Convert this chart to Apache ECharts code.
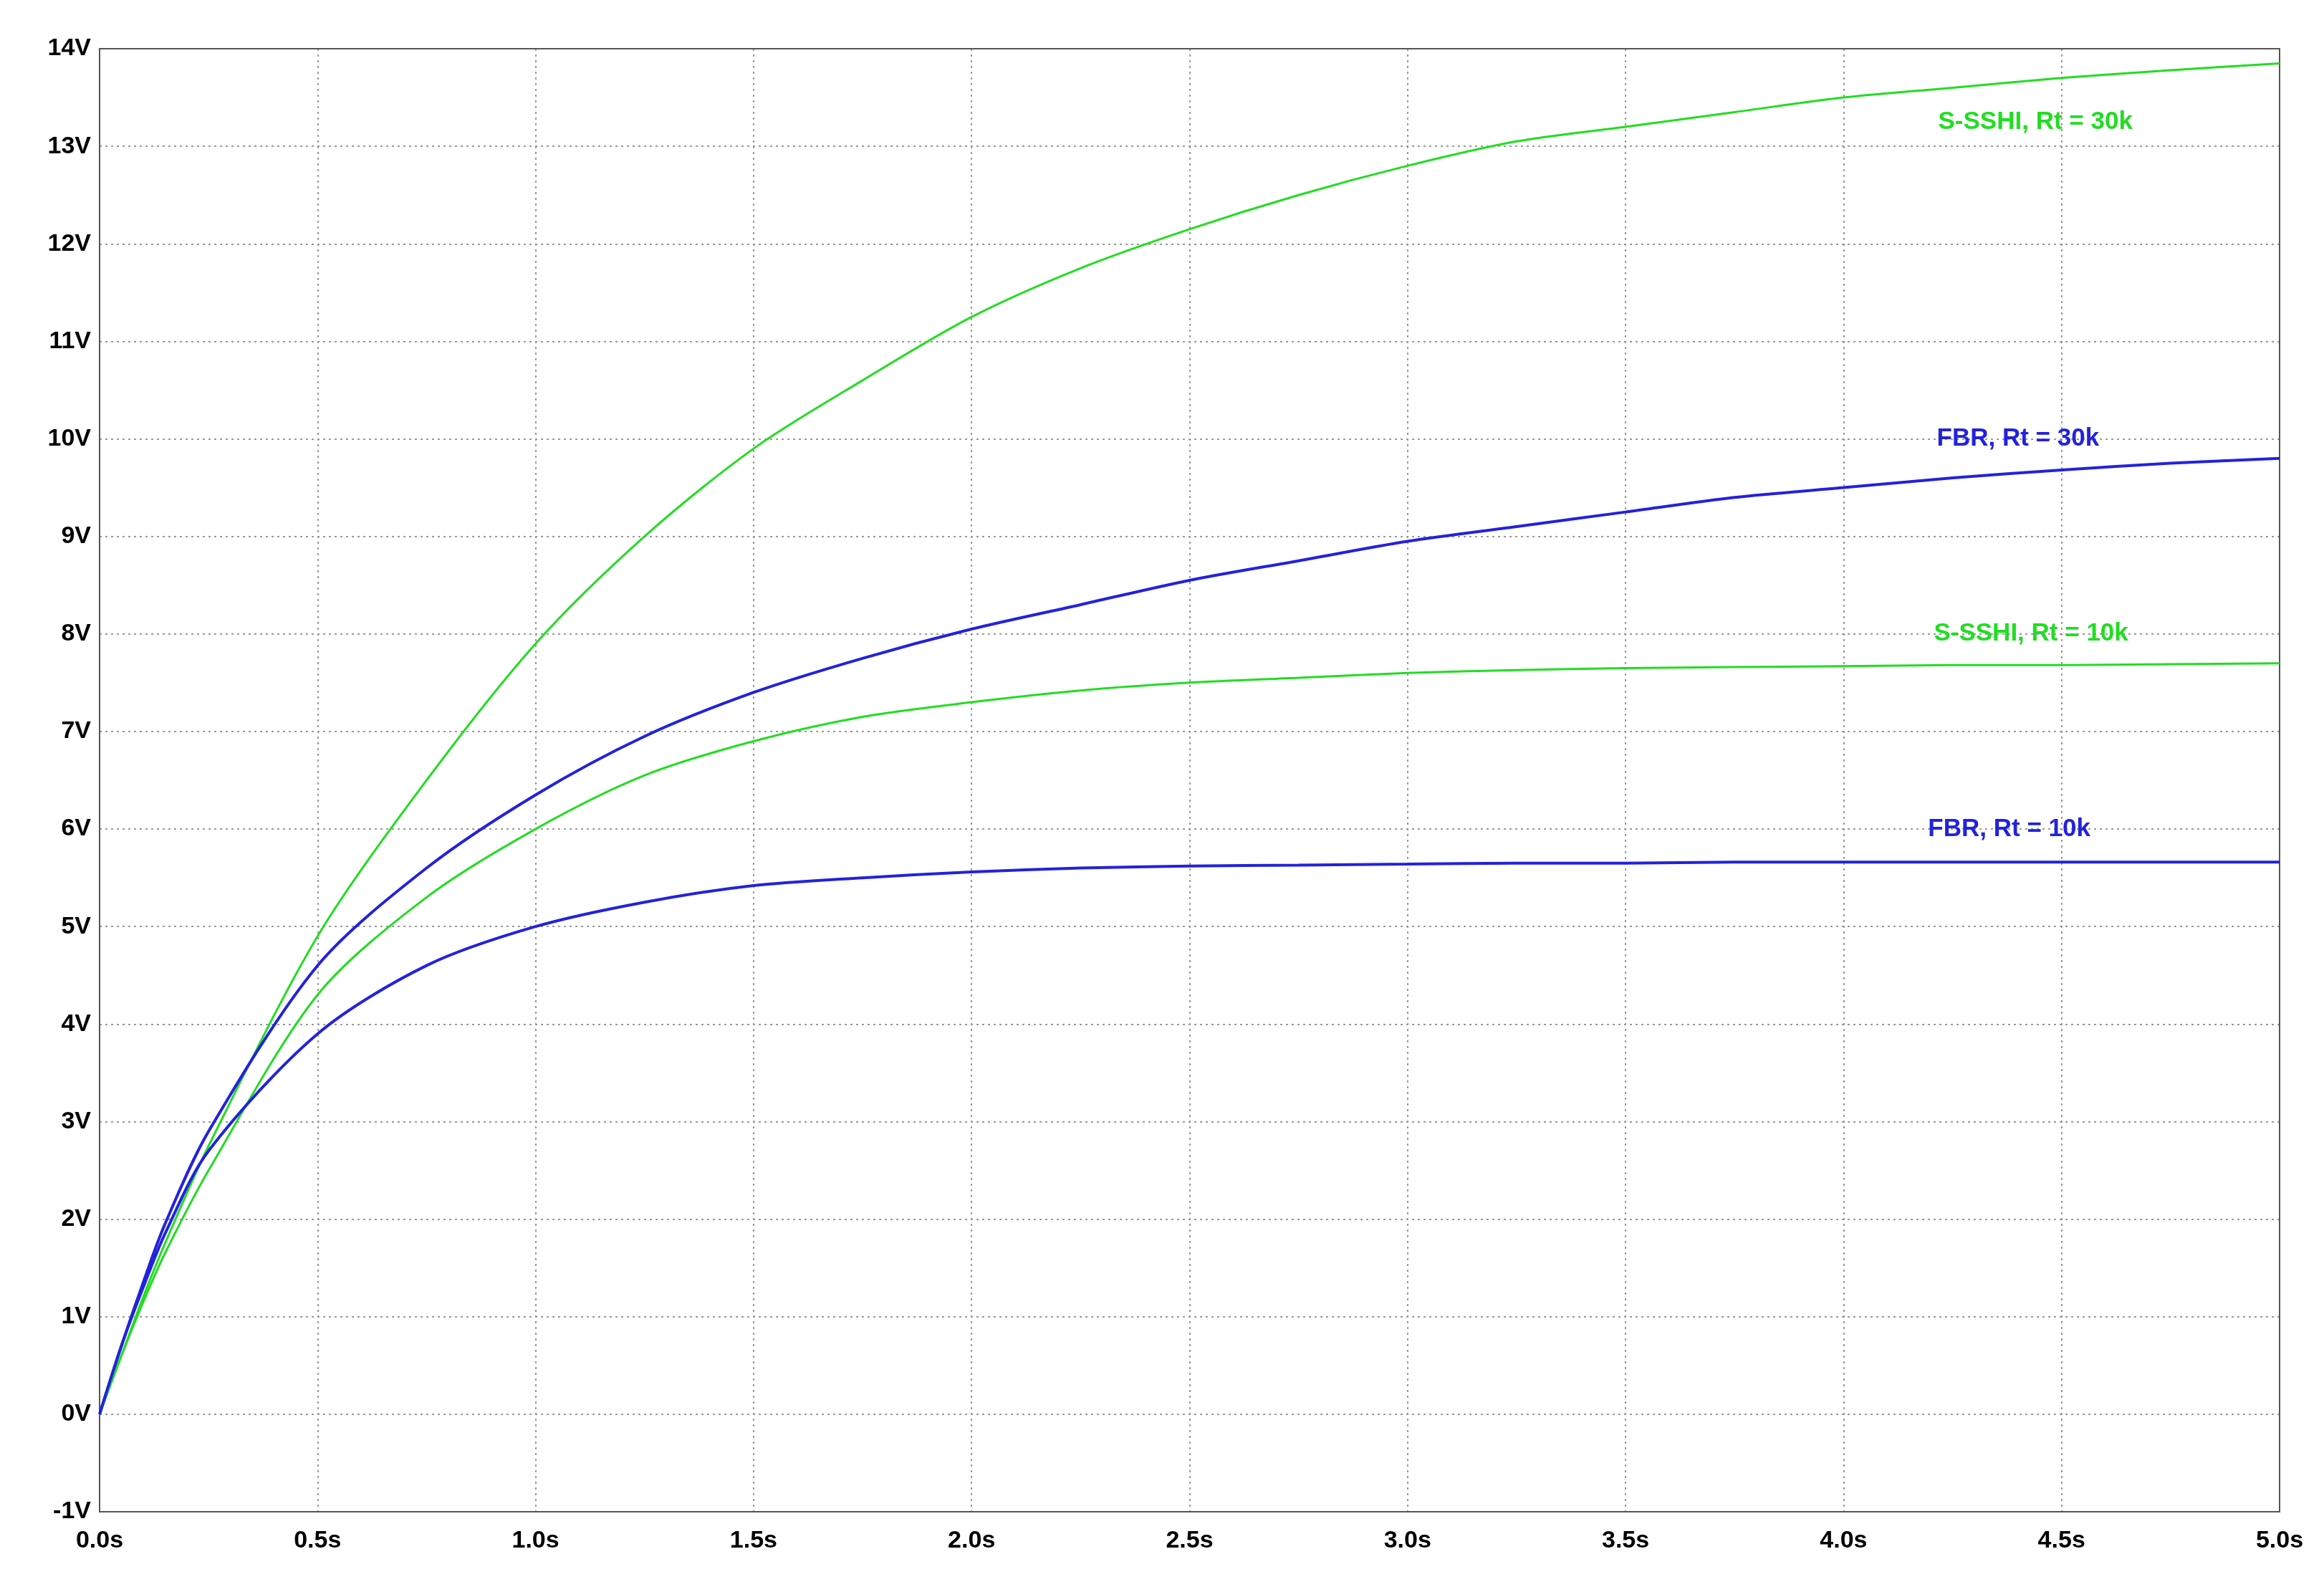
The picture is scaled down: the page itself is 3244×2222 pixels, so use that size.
<!DOCTYPE html>
<html>
<head>
<meta charset="utf-8">
<script src="https://cdn.jsdelivr.net/npm/echarts@6/dist/echarts.min.js"></script>
<style>html,body{margin:0;background:#fff}#chart{width:3244px;height:2222px}</style>
</head>
<body>
<div id="chart"></div>
<script>
// time samples (s) and voltages
const timeA = [0, 0.05, 0.1, 0.15, 0.25, 0.5, 0.75, 1.0, 1.25, 1.5, 1.75, 2.0, 2.25, 2.5, 2.75, 3.0, 3.25, 3.5, 3.75, 4.0, 4.25, 4.5, 4.75, 5.0];
const sshi30 = [0, 0.6, 1.2, 1.75, 2.75, 4.9, 6.5, 7.9, 9.0, 9.9, 10.6, 11.25, 11.75, 12.15, 12.5, 12.8, 13.05, 13.2, 13.35, 13.5, 13.6, 13.7, 13.78, 13.85];
const fbr30  = [0, 0.7, 1.35, 1.95, 2.9, 4.6, 5.6, 6.35, 6.95, 7.4, 7.75, 8.05, 8.3, 8.55, 8.75, 8.95, 9.1, 9.25, 9.4, 9.5, 9.6, 9.68, 9.75, 9.8];
const sshi10 = [0, 0.6, 1.15, 1.65, 2.5, 4.3, 5.3, 6.0, 6.55, 6.9, 7.15, 7.3, 7.42, 7.5, 7.55, 7.6, 7.63, 7.65, 7.66, 7.67, 7.68, 7.68, 7.69, 7.7];
const fbr10  = [0, 0.7, 1.3, 1.85, 2.7, 3.9, 4.6, 5.0, 5.25, 5.42, 5.5, 5.56, 5.6, 5.62, 5.63, 5.64, 5.65, 5.65, 5.66, 5.66, 5.66, 5.66, 5.66, 5.66];
const labels = [
  {name: 'S-SSHI, Rt = 30k', at: [4.44, 13.25], color: '#22dd22'},
  {name: 'FBR, Rt = 30k', at: [4.4, 10.0], color: '#2222dd'},
  {name: 'S-SSHI, Rt = 10k', at: [4.43, 8.0], color: '#22dd22'},
  {name: 'FBR, Rt = 10k', at: [4.38, 6.0], color: '#2222dd'}
];

const chart = echarts.init(document.getElementById('chart'));
const pair = ys => timeA.map((t, i) => [t, ys[i]]);
const mk = (name, ys, color, lab) => ({
  name, type: 'line', data: pair(ys), smooth: 0.3, showSymbol: false,
  lineStyle: {color, width: color === '#2222dd' ? 4 : 3}, z: 3,
  markPoint: {
    symbolSize: 0,
    data: [{coord: lab.at, label: {show: true, formatter: lab.name, color: lab.color,
      fontWeight: 'bold', fontSize: 35, fontFamily: 'Liberation Sans'}}]
  }
});
const axisLab = {color: '#000', fontWeight: 'bold', fontSize: 34, fontFamily: 'Liberation Sans'};
chart.setOption({
  animation: false,
  grid: {left: 139, right: 62, top: 68, bottom: 112},
  xAxis: {
    type: 'value', min: 0, max: 5, interval: 0.5,
    axisLabel: Object.assign({formatter: v => v.toFixed(1) + 's', margin: 24}, axisLab),
    axisLine: {show: false}, axisTick: {show: false},
    splitLine: {lineStyle: {color: '#999', type: [3, 5], width: 2}}
  },
  yAxis: {
    type: 'value', min: -1, max: 14, interval: 1,
    axisLabel: Object.assign({formatter: v => v + 'V', margin: 12}, axisLab),
    axisLine: {show: false}, axisTick: {show: false},
    splitLine: {lineStyle: {color: '#999', type: [3, 5], width: 2}}
  },
  series: [
    mk('S-SSHI, Rt = 30k', sshi30, '#22dd22', labels[0]),
    mk('FBR, Rt = 30k', fbr30, '#2222dd', labels[1]),
    mk('S-SSHI, Rt = 10k', sshi10, '#22dd22', labels[2]),
    mk('FBR, Rt = 10k', fbr10, '#2222dd', labels[3])
  ]
});
// plot frame
const g = chart.getModel().getComponent('grid').coordinateSystem.getRect();
chart.setOption({graphic: [{type: 'rect', shape: {x: g.x, y: g.y, width: g.width, height: g.height},
  style: {fill: 'none', stroke: '#555', lineWidth: 2}, silent: true}]});
</script>
</body>
</html>
